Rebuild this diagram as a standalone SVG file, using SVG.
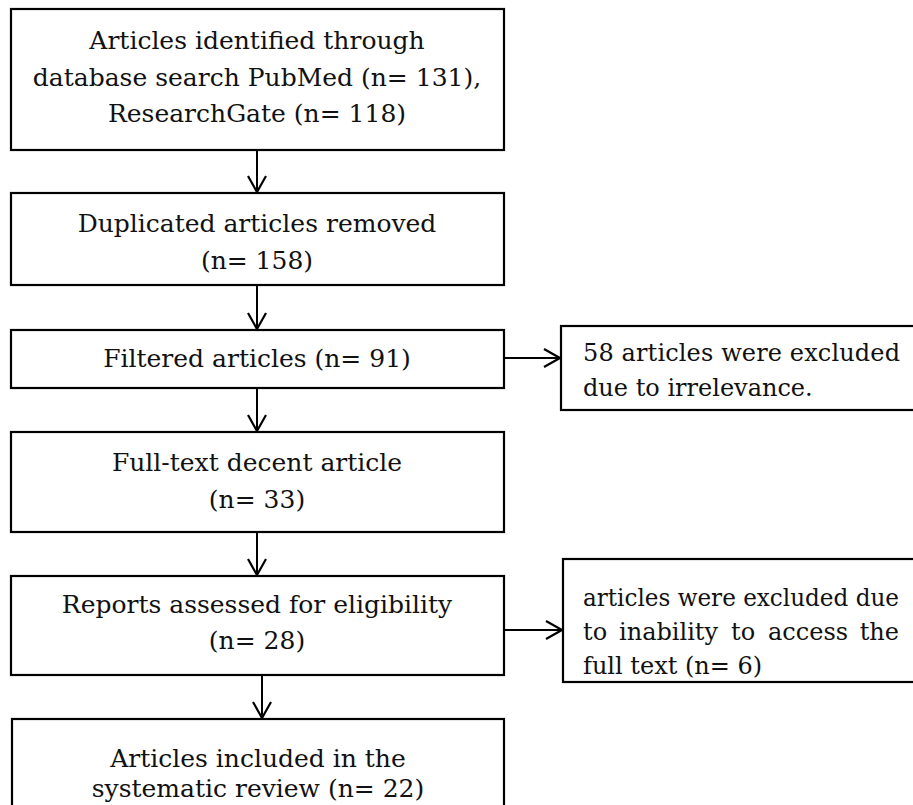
<svg xmlns="http://www.w3.org/2000/svg" width="913" height="805" viewBox="0 0 913 805">
<style>
.box{fill:#fff;stroke:#000;stroke-width:2.2}
.t{font-family:"DejaVu Serif","Liberation Serif",serif;font-size:25px;fill:#111}
.s{font-size:24px}
.c{text-anchor:middle}
.ln{stroke:#000;stroke-width:2;fill:none}
</style>
<defs>
<marker id="ah" markerUnits="userSpaceOnUse" markerWidth="22" markerHeight="22" viewBox="0 0 22 22" refX="19" refY="11" orient="auto">
<path d="M3,2 L19,11 L3,20" fill="none" stroke="#000" stroke-width="2.2"/>
</marker>
</defs>
<g id="n1"><rect class="box" x="11" y="9" width="493" height="141"/>
<text class="t c" x="257" y="49">Articles identified through</text>
<text class="t c" x="257" y="86">database search PubMed (n= 131),</text>
<text class="t c" x="257" y="122">ResearchGate (n= 118)</text></g>
<g id="n2"><rect class="box" x="11" y="193" width="493" height="92"/>
<text class="t c" x="257" y="232">Duplicated articles removed</text>
<text class="t c" x="257" y="269">(n= 158)</text></g>
<g id="n3"><rect class="box" x="11" y="330" width="493" height="58"/>
<text class="t c" x="257" y="367">Filtered articles (n= 91)</text></g>
<g id="n4"><rect class="box" x="11" y="432" width="493" height="100"/>
<text class="t c" x="257" y="471">Full-text decent article</text>
<text class="t c" x="257" y="508">(n= 33)</text></g>
<g id="n5"><rect class="box" x="11" y="576" width="493" height="99"/>
<text class="t c" x="257" y="613">Reports assessed for eligibility</text>
<text class="t c" x="257" y="649">(n= 28)</text></g>
<g id="n6"><rect class="box" x="12" y="719" width="492" height="110"/>
<text class="t c" x="258" y="767">Articles included in the</text>
<text class="t c" x="258" y="797">systematic review (n= 22)</text></g>
<g id="s1"><rect class="box" x="561" y="326" width="370" height="84"/>
<text class="t s" x="583" y="361" textLength="317" lengthAdjust="spacing">58 articles were excluded</text>
<text class="t s" x="583" y="396">due to irrelevance.</text></g>
<g id="s2"><rect class="box" x="563" y="559" width="370" height="123"/>
<text class="t s" x="583" y="606" textLength="316" lengthAdjust="spacingAndGlyphs">articles were excluded due</text>
<text class="t s" y="640"><tspan x="583">to</tspan><tspan x="619">inability</tspan><tspan x="731">to</tspan><tspan x="768">access</tspan><tspan x="899" text-anchor="end">the</tspan></text>
<text class="t s" x="583" y="674">full text (n= 6)</text></g>
<g id="connectors">
<line class="ln" x1="257" y1="150" x2="257" y2="192" marker-end="url(#ah)"/>
<line class="ln" x1="257" y1="285" x2="257" y2="329" marker-end="url(#ah)"/>
<line class="ln" x1="257" y1="388" x2="257" y2="431" marker-end="url(#ah)"/>
<line class="ln" x1="257" y1="532" x2="257" y2="575" marker-end="url(#ah)"/>
<line class="ln" x1="262" y1="675" x2="262" y2="718" marker-end="url(#ah)"/>
<line class="ln" x1="504" y1="358" x2="560" y2="358" marker-end="url(#ah)"/>
<line class="ln" x1="504" y1="630" x2="562" y2="630" marker-end="url(#ah)"/>
</g>
</svg>
